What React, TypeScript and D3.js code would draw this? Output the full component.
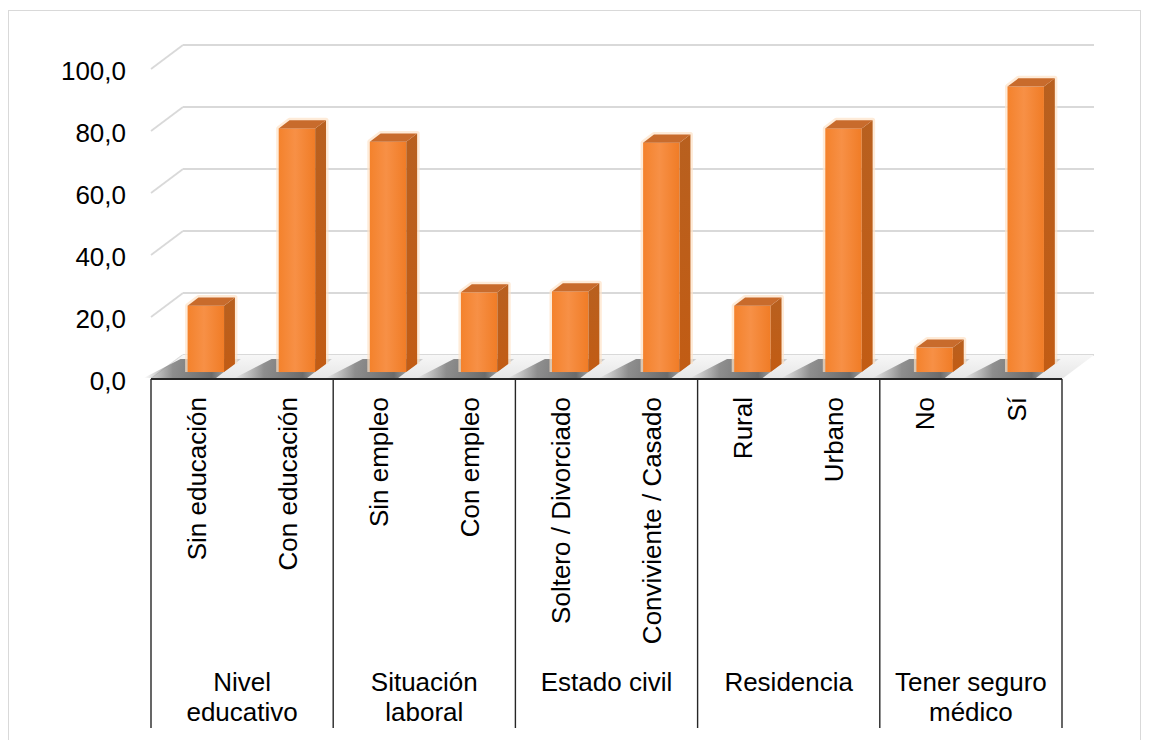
import React, { useRef, useEffect } from 'react';
import * as d3 from 'd3';

// Categories, left to right
const categories = [
  'Sin educación', 'Con educación',
  'Sin empleo', 'Con empleo',
  'Soltero / Divorciado', 'Conviviente / Casado',
  'Rural', 'Urbano',
  'No', 'Sí',
];
// Percent values
const values = [21.4, 78.6, 74.3, 25.7, 26.0, 74.0, 21.4, 78.6, 7.9, 92.1];
// Group labels, each spanning two categories
const groupLabels = [
  ['Nivel', 'educativo'],
  ['Situación', 'laboral'],
  ['Estado civil'],
  ['Residencia'],
  ['Tener seguro', 'médico'],
];
const yTicks = [0, 20, 40, 60, 80, 100];

const FONT = '"Liberation Sans", Arial, sans-serif';

const Chart = () => {
  const svgRef = useRef<SVGSVGElement>(null);

  useEffect(() => {
    if (!svgRef.current) return;
    const svg = d3.select(svgRef.current);
    svg.selectAll('*').remove();

    // plot geometry
    const left = 151, right = 1062, floorY = 379;
    const depthX = 32, depthY = 24;
    const f0 = 0.29, f1 = 0.63; // bar position in depth

    const y = d3.scaleLinear().domain([0, 100]).range([floorY, 69]);
    const xCat = d3.scaleBand().domain(categories).range([left, right]);
    const xBar = d3.scaleBand().domain(categories).range([left, right])
      .paddingInner(0.6).paddingOuter(0.3);

    const defs = svg.append('defs');
    const front = defs.append('linearGradient').attr('id', 'front')
      .attr('x1', 0).attr('y1', 0).attr('x2', 1).attr('y2', 0);
    front.append('stop').attr('offset', '0%').attr('stop-color', '#f4822c');
    front.append('stop').attr('offset', '45%').attr('stop-color', '#f79046');
    front.append('stop').attr('offset', '100%').attr('stop-color', '#f07c26');
    const side = defs.append('linearGradient').attr('id', 'side')
      .attr('x1', 0).attr('y1', 0).attr('x2', 0).attr('y2', 1);
    side.append('stop').attr('offset', '0%').attr('stop-color', '#b8601f');
    side.append('stop').attr('offset', '100%').attr('stop-color', '#c25c14');
    const shade = defs.append('linearGradient').attr('id', 'shade')
      .attr('x1', 0).attr('y1', 0).attr('x2', 1).attr('y2', 0);
    shade.append('stop').attr('offset', '0%').attr('stop-color', '#6a6a6a').attr('stop-opacity', 0);
    shade.append('stop').attr('offset', '30%').attr('stop-color', '#666').attr('stop-opacity', 0.7);
    shade.append('stop').attr('offset', '70%').attr('stop-color', '#555').attr('stop-opacity', 0.85);
    shade.append('stop').attr('offset', '100%').attr('stop-color', '#888').attr('stop-opacity', 0.3);
    const floorGrad = defs.append('linearGradient').attr('id', 'floor')
      .attr('x1', 0).attr('y1', 0).attr('x2', 0).attr('y2', 1);
    floorGrad.append('stop').attr('offset', '0%').attr('stop-color', '#f7f7f7');
    floorGrad.append('stop').attr('offset', '100%').attr('stop-color', '#e6e6e6');

    // outer frame
    svg.append('rect')
      .attr('x', 8.5).attr('y', 10.5).attr('width', 1132).attr('height', 760)
      .attr('fill', 'white').attr('stroke', '#d9d9d9').attr('stroke-width', 1);

    // gridlines: back wall + side wall
    const grid = svg.append('g').attr('stroke', '#d9d9d9').attr('stroke-width', 1.8).attr('fill', 'none');
    yTicks.forEach(t => {
      grid.append('line')
        .attr('x1', left + depthX).attr('x2', right + depthX)
        .attr('y1', y(t) - depthY).attr('y2', y(t) - depthY);
      grid.append('line')
        .attr('x1', left).attr('y1', y(t))
        .attr('x2', left + depthX).attr('y2', y(t) - depthY);
    });

    // floor
    svg.append('path')
      .attr('d', `M${left},${floorY}L${right},${floorY}L${right + depthX},${floorY - depthY}L${left + depthX},${floorY - depthY}Z`)
      .attr('fill', 'url(#floor)');

    const shiftX = depthX * f0;
    const baseShift = depthY * f0;
    const dx = depthX * (f1 - f0);
    const dy = depthY * (f1 - f0);
    const w = xBar.bandwidth();

    // shadows on the floor
    const shadows = svg.append('g');
    categories.forEach(c => {
      const x = (xBar(c) || 0) + shiftX;
      shadows.append('path')
        .attr('d', `M${x - 44},${floorY - 1}L${x + w - 8},${floorY - 1}L${x + w + dx + 6},${floorY - depthY + 4}L${x + dx - 18},${floorY - depthY + 4}Z`)
        .attr('fill', 'url(#shade)');
    });

    // bars
    const bars = svg.append('g');
    categories.forEach((c, i) => {
      const x = (xBar(c) || 0) + shiftX;
      const yb = floorY - baseShift;
      const yt = y(values[i]) - baseShift;
      const g = bars.append('g');
      // soft glow outline
      g.append('path')
        .attr('d', `M${x},${yb}L${x},${yt}L${x + dx},${yt - dy}L${x + w + dx},${yt - dy}L${x + w + dx},${yb - dy}`)
        .attr('fill', 'none').attr('stroke', '#fde3c8').attr('stroke-width', 5)
        .attr('stroke-linejoin', 'round').attr('opacity', 0.7);
      g.append('rect')
        .attr('x', x).attr('y', yt).attr('width', w).attr('height', yb - yt)
        .attr('fill', 'url(#front)');
      g.append('path')
        .attr('d', `M${x + w},${yt}L${x + w + dx},${yt - dy}L${x + w + dx},${yb - dy}L${x + w},${yb}Z`)
        .attr('fill', 'url(#side)');
      g.append('path')
        .attr('d', `M${x},${yt}L${x + dx},${yt - dy}L${x + w + dx},${yt - dy}L${x + w},${yt}Z`)
        .attr('fill', '#c86b2c');
    });

    // y axis labels
    svg.append('g').selectAll('text').data(yTicks).enter().append('text')
      .attr('x', 126).attr('y', d => y(d) + 2).attr('dy', '0.35em')
      .attr('text-anchor', 'end')
      .style('font-family', FONT).style('font-size', '26px').style('fill', '#000')
      .text(d => d3.format('.1f')(d).replace('.', ','));

    // category axis line
    svg.append('line')
      .attr('x1', left).attr('x2', right).attr('y1', floorY).attr('y2', floorY)
      .attr('stroke', '#262626').attr('stroke-width', 2.2);

    // group dividers
    const bottom = 728;
    const bounds = [0, 2, 4, 6, 8].map(i => xCat(categories[i]) || 0).concat([right]);
    svg.append('g').selectAll('line').data(bounds).enter().append('line')
      .attr('x1', d => d).attr('x2', d => d).attr('y1', floorY).attr('y2', bottom)
      .attr('stroke', '#262626').attr('stroke-width', 1.4);

    // rotated category labels
    svg.append('g').selectAll('text').data(categories).enter().append('text')
      .attr('transform', d => `translate(${(xCat(d) || 0) + xCat.bandwidth() / 2},397) rotate(-90)`)
      .attr('text-anchor', 'end').attr('dy', '0.35em')
      .style('font-family', FONT).style('font-size', '26px').style('fill', '#000')
      .text(d => d);

    // group labels
    groupLabels.forEach((lines, gi) => {
      const cx = (bounds[gi] + bounds[gi + 1]) / 2;
      lines.forEach((line, li) => {
        svg.append('text')
          .attr('x', cx).attr('y', 691 + li * 30)
          .attr('text-anchor', 'middle')
          .style('font-family', FONT).style('font-size', '26px').style('fill', '#000')
          .text(line);
      });
    });
  }, []);

  return (
    <svg ref={svgRef} width={1150} height={740}
      style={{ position: 'absolute', left: 0, top: 0, background: 'white' }} />
  );
};

const App = () => <Chart />;

export default App;
